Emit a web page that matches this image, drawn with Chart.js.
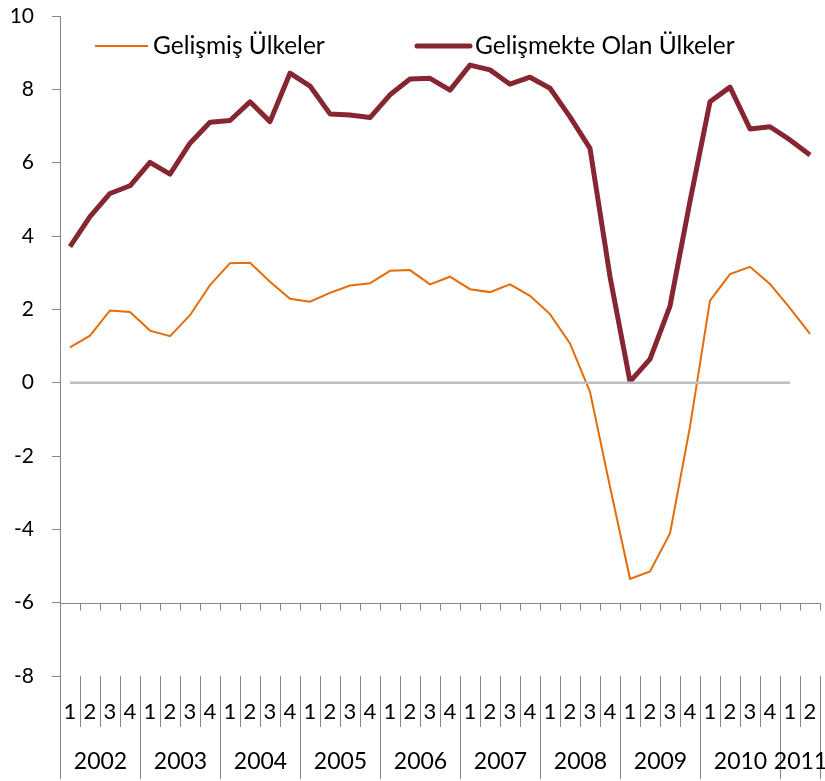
<!DOCTYPE html>
<html>
<head>
<meta charset="utf-8">
<script src="https://cdn.jsdelivr.net/npm/chart.js@4.4.0/dist/chart.umd.min.js"></script>
<style>
  html, body { margin: 0; padding: 0; background: #fff; }
  #wrap { width: 825px; height: 781px; position: relative; }
</style>
</head>
<body>
<div id="wrap"><canvas id="canvas"></canvas></div>
<script>
/* DATA */
var QUARTERS = ["1","2","3","4","1","2","3","4","1","2","3","4","1","2","3","4","1","2","3","4",
                "1","2","3","4","1","2","3","4","1","2","3","4","1","2","3","4","1","2"];
var YEARS = ["2002","2003","2004","2005","2006","2007","2008","2009","2010","2011"];
var YEAR_QUARTERS = [4, 4, 4, 4, 4, 4, 4, 4, 4, 2];
var Y_TICKS = [-8, -6, -4, -2, 0, 2, 4, 6, 8, 10];

var GELISMIS = [0.96, 1.28, 1.97, 1.93, 1.42, 1.27, 1.84, 2.66, 3.26, 3.27,
                2.75, 2.29, 2.21, 2.45, 2.65, 2.71, 3.05, 3.07, 2.68, 2.89,
                2.55, 2.47, 2.68, 2.37, 1.87, 1.07, -0.25, -2.84, -5.35, -5.15,
                -4.11, -1.2, 2.24, 2.96, 3.16, 2.69, 2.03, 1.33];
var GELISMEKTE = [3.71, 4.53, 5.16, 5.37, 6.01, 5.69, 6.53, 7.10, 7.15, 7.66,
                  7.12, 8.44, 8.09, 7.33, 7.30, 7.23, 7.85, 8.28, 8.30, 7.98,
                  8.66, 8.53, 8.14, 8.33, 8.03, 7.25, 6.39, 2.89, 0.03, 0.64,
                  2.09, 4.95, 7.66, 8.06, 6.92, 6.98, 6.62, 6.21];
var ZERO_LINE = [0, 0, 0, 0, 0, 0, 0, 0, 0, 0, 0, 0, 0, 0, 0, 0, 0, 0, 0, 0,
                 0, 0, 0, 0, 0, 0, 0, 0, 0, 0, 0, 0, 0, 0, 0, 0, 0, null];

var FONT = "Lato, 'Open Sans', sans-serif";
var AXIS_COLOR = "#868686";

/* multi level category axis + legend, drawn from the scales */
var multiLevelAxis = {
  id: 'multiLevelAxis',
  afterDraw: function(chart) {
    var ctx = chart.ctx;
    var xs = chart.scales.x, ys = chart.scales.y;
    var half = (xs.getPixelForValue(1) - xs.getPixelForValue(0)) / 2;
    var axisY = Math.round(ys.getPixelForValue(-6)) + 0.5;
    var top = chart.chartArea.bottom;

    function edge(i) {
      return Math.round(xs.getPixelForValue(i) - half) + 0.5;
    }

    ctx.save();
    ctx.strokeStyle = AXIS_COLOR;
    ctx.lineWidth = 1;

    // axis crossing at -6 with small ticks
    ctx.beginPath();
    ctx.moveTo(edge(0), axisY);
    ctx.lineTo(edge(QUARTERS.length), axisY);
    for (var i = 0; i <= QUARTERS.length; i++) {
      ctx.moveTo(edge(i), axisY);
      ctx.lineTo(edge(i), axisY + 7);
    }
    ctx.stroke();

    // separators between quarters and years
    var yearEdges = {0: true};
    var acc = 0;
    for (var k = 0; k < YEAR_QUARTERS.length; k++) {
      acc += YEAR_QUARTERS[k];
      yearEdges[acc] = true;
    }
    ctx.beginPath();
    for (var j = 0; j <= QUARTERS.length; j++) {
      ctx.moveTo(edge(j), top);
      ctx.lineTo(edge(j), yearEdges[j] ? 779 : 727);
    }
    ctx.stroke();

    // labels
    ctx.fillStyle = "#000";
    ctx.textAlign = "center";
    ctx.textBaseline = "middle";
    ctx.font = "22px " + FONT;
    for (var q = 0; q < QUARTERS.length; q++) {
      ctx.fillText(QUARTERS[q], xs.getPixelForValue(q), 712);
    }
    ctx.font = "23px " + FONT;
    var start = 0;
    for (var y = 0; y < YEARS.length; y++) {
      var mid = (edge(start) + edge(start + YEAR_QUARTERS[y])) / 2;
      ctx.fillText(YEARS[y], mid, 762);
      start += YEAR_QUARTERS[y];
    }

    // legend inside the plot
    var items = [
      { ds: chart.data.datasets[2], x: 95 },
      { ds: chart.data.datasets[1], x: 417 }
    ];
    ctx.textAlign = "left";
    ctx.font = "24.5px " + FONT;
    items.forEach(function(it) {
      ctx.strokeStyle = it.ds.borderColor;
      ctx.lineWidth = it.ds.borderWidth;
      ctx.lineCap = it.ds.borderWidth > 3 ? "round" : "butt";
      ctx.beginPath();
      ctx.moveTo(it.x, 46);
      ctx.lineTo(it.x + 53, 46);
      ctx.stroke();
      ctx.fillText(it.ds.label, it.x + 58, 46);
    });
    ctx.restore();
  }
};

var ctx = document.getElementById("canvas").getContext("2d");
window.myLine = new Chart(ctx, {
  type: 'line',
  data: {
    labels: QUARTERS,
    datasets: [{
      label: 'Sıfır',
      data: ZERO_LINE,
      borderColor: '#BFBFBF',
      borderWidth: 2.5,
      pointRadius: 0,
      tension: 0
    }, {
      label: 'Gelişmekte Olan Ülkeler',
      data: GELISMEKTE,
      borderColor: '#862633',
      borderWidth: 5,
      pointRadius: 0,
      borderJoinStyle: 'round',
      tension: 0
    }, {
      label: 'Gelişmiş Ülkeler',
      data: GELISMIS,
      borderColor: '#E46C0A',
      borderWidth: 2,
      pointRadius: 0,
      tension: 0
    }]
  },
  options: {
    responsive: true,
    maintainAspectRatio: false,
    animation: false,
    layout: { padding: { top: 16, right: 5, bottom: 105, left: 0 } },
    plugins: {
      legend: { display: false },
      tooltip: { enabled: false }
    },
    scales: {
      x: {
        display: false,
        offset: true
      },
      y: {
        min: -8,
        max: 10,
        afterBuildTicks: function(scale) {
          scale.ticks = Y_TICKS.map(function(v) { return { value: v }; });
        },
        afterFit: function(scale) {
          scale.width = 60;
          scale.paddingTop = 0;
          scale.paddingBottom = 0;
        },
        border: { display: true, color: AXIS_COLOR, width: 1 },
        grid: { drawOnChartArea: false, tickLength: 8, color: AXIS_COLOR },
        ticks: {
          padding: 18,
          color: '#000',
          font: { family: FONT, size: 21 }
        }
      }
    }
  },
  plugins: [multiLevelAxis]
});
</script>
</body>
</html>
